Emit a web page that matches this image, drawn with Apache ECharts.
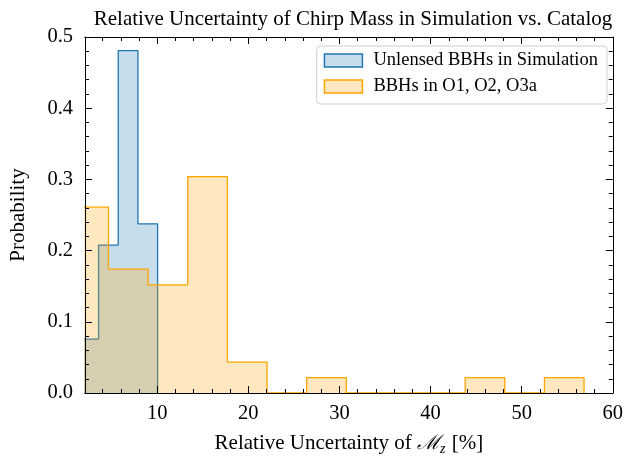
<!DOCTYPE html>
<html><head><meta charset="utf-8">
<script src="https://cdn.jsdelivr.net/npm/echarts@6/dist/echarts.min.js"></script>
<style>html,body{margin:0;padding:0;background:#fff}#c{width:626px;height:461px}</style>
</head><body><div id="c"></div>
<script>
// Simulation histogram (bin edges and probabilities)
const simEdges = [1.4, 3.56, 5.72, 7.88, 10.04];
const simProb = [0.0756, 0.2077, 0.481, 0.2376];
// Catalog histogram
const catEdges = [0.3, 4.65, 9.0, 13.35, 17.7, 22.05, 26.4, 30.75, 35.1, 39.45, 43.8, 48.15, 52.5, 56.85];
const catProb = [0.261, 0.174, 0.152, 0.304, 0.0435, 0, 0.0217, 0, 0, 0, 0.0217, 0, 0.0217];
// Axis ticks
const xMajor = [10, 20, 30, 40, 50, 60];
const xMinor = [4, 6, 8, 12, 14, 16, 18, 22, 24, 26, 28, 32, 34, 36, 38, 42, 44, 46, 48, 52, 54, 56, 58];
const xMin = 2.07, xMax = 60;
const seriesNames = ['Unlensed BBHs in Simulation', 'BBHs in O1, O2, O3a'];

function stepPoints(edges, vals) {
  const pts = [[edges[0], 0]];
  for (let i = 0; i < vals.length; i++) pts.push([edges[i], vals[i]]);
  pts.push([edges[edges.length - 1], vals[vals.length - 1]]);
  pts.push([edges[edges.length - 1], 0]);
  return pts;
}

const FONT = 'Liberation Serif';
const TICK_FS = 20.5;
const chart = echarts.init(document.getElementById('c'), null, {renderer: 'canvas'});

function xAx(pos, vals, len, labels) {
  return {
    type: 'value', position: pos, min: xMin, max: xMax, z: 5,
    axisLine: {show: true, onZero: false, lineStyle: {color: '#000', width: 1}},
    axisTick: {show: true, inside: true, length: len, customValues: vals, lineStyle: {color: '#000', width: 1}},
    axisLabel: labels ? {show: true, customValues: xMajor, fontFamily: FONT, fontSize: TICK_FS, color: '#000', margin: 10} : {show: false},
    splitLine: {show: false}
  };
}
function yAx(pos, labels) {
  return {
    type: 'value', position: pos, min: 0, max: 0.5, interval: 0.1, z: 5,
    axisLine: {show: true, onZero: false, lineStyle: {color: '#000', width: 1}},
    axisTick: {show: true, inside: true, length: 7, lineStyle: {color: '#000', width: 1}},
    minorTick: {show: true, splitNumber: 5, length: 4, lineStyle: {color: '#000', width: 1}},
    axisLabel: labels ? {show: true, fontFamily: FONT, fontSize: TICK_FS, color: '#000', margin: 12,
      formatter: v => v.toFixed(1)} : {show: false},
    splitLine: {show: false},
    name: labels ? 'Probability' : '', nameLocation: 'middle', nameGap: 56,
    nameTextStyle: {fontFamily: FONT, fontSize: 21, color: '#000'}
  };
}

const xa0 = xAx('bottom', xMajor, 7, true);
xa0.name = '{a|Relative Uncertainty of }{m|ℳ}{s|z}{a| [%]}';
xa0.nameLocation = 'middle';
xa0.nameGap = 38;
xa0.nameTextStyle = {rich: {
  a: {fontFamily: FONT, fontSize: 21, color: '#000'},
  m: {fontFamily: 'DejaVu Serif', fontSize: 20, fontStyle: 'italic', color: '#000'},
  s: {fontFamily: FONT, fontSize: 14, fontStyle: 'italic', color: '#000', padding: [11, 1, 0, 0]}
}};

chart.setOption({
  animation: false,
  title: {text: 'Relative Uncertainty of Chirp Mass in Simulation vs. Catalog', left: 348, textAlign: 'center', top: 4,
    textStyle: {fontFamily: FONT, fontSize: 21, fontWeight: 'normal', color: '#000'}},
  grid: {left: 83, right: 12, top: 37, bottom: 67, containLabel: false},
  legend: {
    orient: 'vertical', right: 19, top: 46, itemWidth: 38, itemHeight: 13, itemGap: 7,
    padding: [5, 9, 8, 7], borderColor: '#d0d0d0', borderWidth: 1, borderRadius: 4, backgroundColor: 'rgba(255,255,255,0.8)',
    textStyle: {fontFamily: FONT, fontSize: 18.5, lineHeight: 19, color: '#000', padding: [0, 0, 0, 6]},
    data: [
      {name: seriesNames[0], icon: 'rect', itemStyle: {color: 'rgba(31,119,180,0.25)', borderColor: '#1f77b4', borderWidth: 1.5}},
      {name: seriesNames[1], icon: 'rect', itemStyle: {color: 'rgba(255,165,0,0.25)', borderColor: '#ffa500', borderWidth: 1.5}}
    ]
  },
  xAxis: [xa0, xAx('bottom', xMinor, 4, false), xAx('top', xMajor, 7, false), xAx('top', xMinor, 4, false)],
  yAxis: [yAx('left', true), yAx('right', false)],
  series: [
    {name: seriesNames[0], type: 'line', data: stepPoints(simEdges, simProb), step: 'end', symbol: 'none', clip: true, z: 2,
      lineStyle: {color: '#1f77b4', width: 1.3}, itemStyle: {color: '#1f77b4'},
      areaStyle: {color: 'rgba(31,119,180,0.25)', opacity: 1, origin: 0}},
    {name: seriesNames[1], type: 'line', data: stepPoints(catEdges, catProb), step: 'end', symbol: 'none', clip: true, z: 3,
      lineStyle: {color: '#ffa500', width: 1.3}, itemStyle: {color: '#ffa500'},
      areaStyle: {color: 'rgba(255,165,0,0.25)', opacity: 1, origin: 0}}
  ]
});
</script></body></html>
